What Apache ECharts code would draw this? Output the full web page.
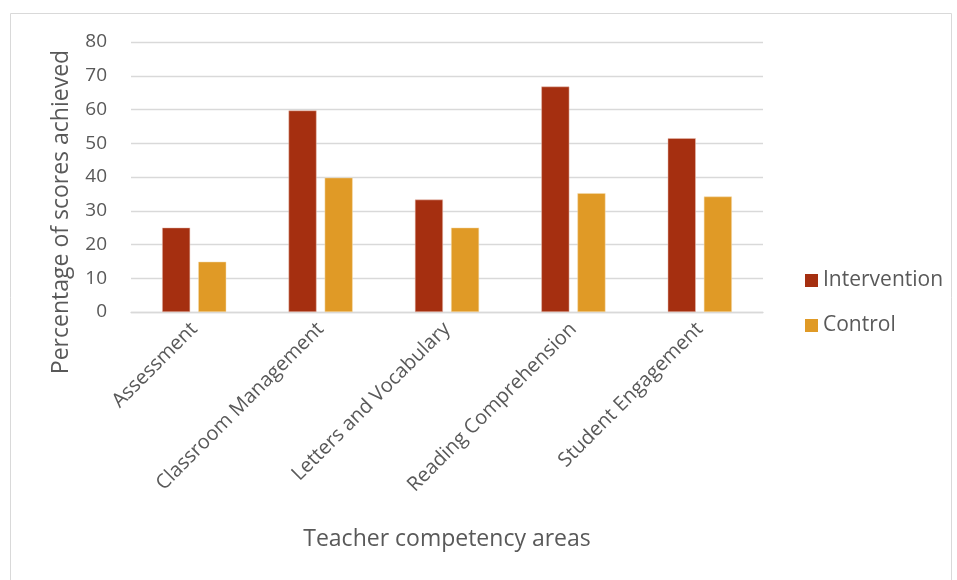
<!DOCTYPE html>
<html><head><meta charset="utf-8">
<script src="https://cdn.jsdelivr.net/npm/echarts@6/dist/echarts.min.js"></script>
<style>html,body{margin:0;padding:0;background:#fff}#c{width:957px;height:580px}</style>
</head><body><div id="c"></div>
<script>
const categories = ['Assessment','Classroom Management','Letters and Vocabulary','Reading Comprehension','Student Engagement'];
const intervention = [25, 59.7, 33.3, 66.8, 51.5];
const control = [14.9, 39.8, 25, 35.2, 34.2];
const yTicks = [0, 10, 20, 30, 40, 50, 60, 70, 80];
const FONT = 'Open Sans';
const chart = echarts.init(document.getElementById('c'), null, {renderer: 'canvas'});
chart.setOption({
  animation: false,
  textStyle: {fontFamily: FONT},
  graphic: [{type: 'rect', shape: {x: 10.5, y: 13.5, width: 941, height: 580}, style: {fill: 'none', stroke: '#d9d9d9', lineWidth: 1}}],
  grid: {left: 131, right: 194, top: 42, bottom: 268, containLabel: false},
  legend: {
    orient: 'vertical', left: 805, top: 270, padding: 0, itemWidth: 13, itemHeight: 13, itemGap: 24,
    icon: 'rect',
    itemStyle: {borderWidth: 0},
    textStyle: {color: '#595959', fontSize: 21, fontFamily: FONT},
    data: ['Intervention', 'Control']
  },
  xAxis: {
    type: 'category', data: categories,
    name: 'Teacher competency areas', nameLocation: 'middle', nameGap: 216,
    nameTextStyle: {color: '#595959', fontSize: 23, fontFamily: FONT},
    axisLine: {lineStyle: {color: '#d9d9d9', width: 1.3}},
    axisTick: {show: false},
    axisLabel: {rotate: 45, color: '#595959', fontSize: 20, fontFamily: FONT, margin: 14, interval: 0}
  },
  yAxis: {
    type: 'value', min: 0, max: 80, interval: 10,
    name: 'Percentage of scores achieved', nameLocation: 'middle', nameGap: 58, nameRotate: 90,
    nameTextStyle: {color: '#595959', fontSize: 23, fontFamily: FONT, padding: [0, 70, 0, 0]},
    axisLine: {show: false}, axisTick: {show: false},
    axisLabel: {color: '#595959', fontSize: 19, fontFamily: FONT, margin: 24,
      formatter: v => yTicks.includes(v) ? String(v) : ''},
    splitLine: {lineStyle: {color: '#d9d9d9', width: 1.3}}
  },
  series: [
    {name: 'Intervention', type: 'bar', data: intervention, barWidth: 28, barGap: '29%',
     itemStyle: {color: '#a52f10', borderColor: '#e8c0b4', borderWidth: 0.5}},
    {name: 'Control', type: 'bar', data: control, barWidth: 28,
     itemStyle: {color: '#e09a26', borderColor: '#f5dcb0', borderWidth: 0.5}}
  ]
});
</script></body></html>
